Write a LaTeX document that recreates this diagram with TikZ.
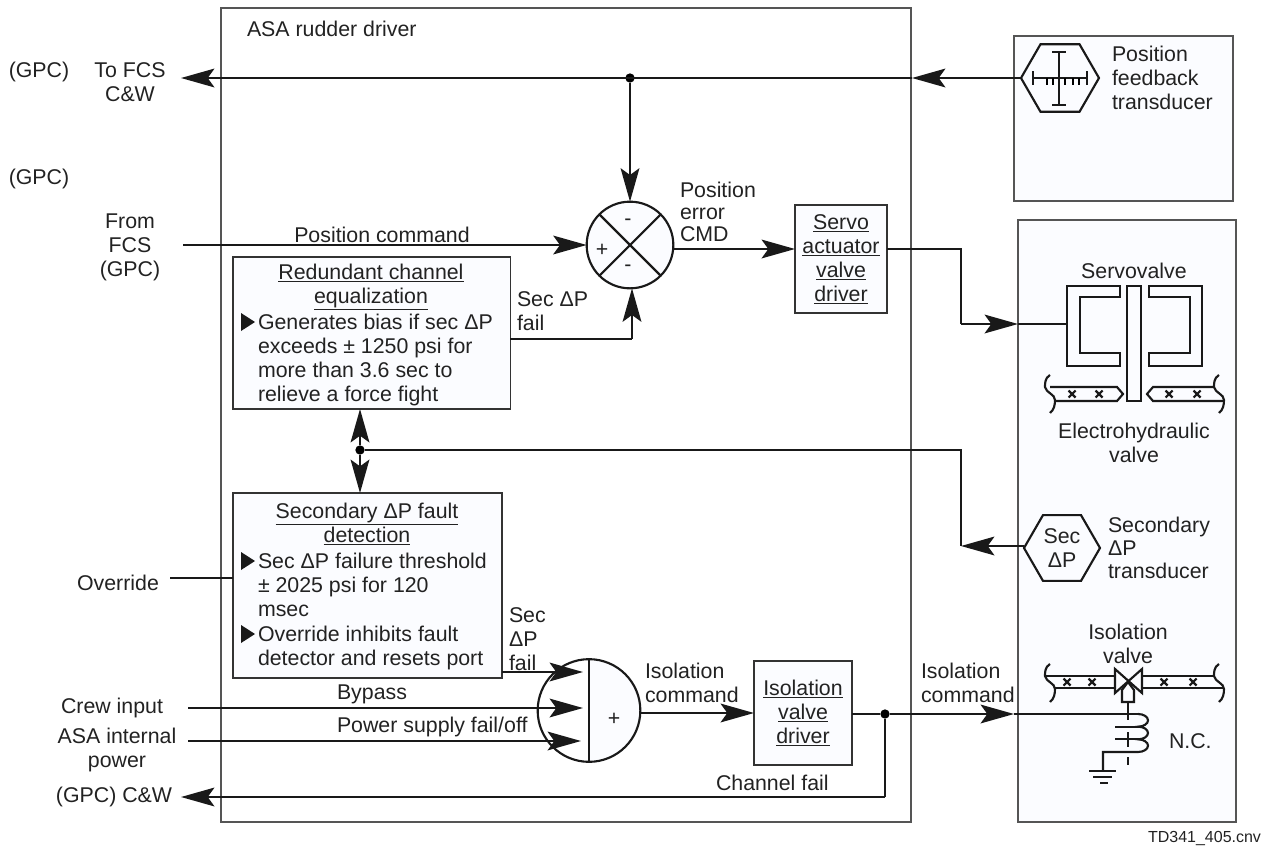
\documentclass[tikz,border=0pt]{standalone}
\usepackage{fontspec}
\setmainfont{Liberation Sans}
\usetikzlibrary{arrows.meta,shapes.geometric}
\definecolor{panelblue}{HTML}{FBFCFF}
\definecolor{edgegray}{HTML}{555555}
\definecolor{inkgray}{HTML}{222222}
\tikzset{
	lbl/.style={inner sep=0pt,outer sep=0pt,text=inkgray,align=center,font=\fontsize{16}{18}\selectfont},
	lblleft/.style={lbl,align=left,anchor=west},
	sig/.style={line width=2.1pt,draw=black!90},
	sigarrow/.style={sig,-{Stealth[length=25pt,width=14pt,inset=5pt]}},
	shapeline/.style={line width=1.6pt,draw=black!90},
	panel/.style={draw=black!80,line width=1pt,fill=panelblue,inner sep=0pt,outer sep=0pt},
	hexa/.style={regular polygon,regular polygon sides=6,minimum size=57pt,shapeline,fill=panelblue,inner sep=0pt,outer sep=0pt},
	joint/.style={circle,fill=black,inner sep=0pt,outer sep=0pt,minimum size=7pt},
	pipebrace/.pic={
		\draw[shapeline] (5,-12) .. controls (0,-9) and (0,-4) .. (0,0)
			.. controls (1,6) and (10,7) .. (10,13) .. controls (10,18) and (9,23) .. (5,26);
	}
}
\begin{document}
\begin{tikzpicture}[x=0.75pt,y=-0.75pt]
	\useasboundingbox (0,0) rectangle (1265,847);
	
	% outer boxes
	\node[panel,fill=white,draw=edgegray,anchor=north west,minimum width=517.5pt,minimum height=610.5pt] (driverBox) at (221,8) {};
	\node[panel,draw=edgegray,anchor=north west,minimum width=164.25pt,minimum height=123.75pt] (feedBox) at (1014,36) {};
	\node[panel,draw=edgegray,anchor=north west,minimum width=163.5pt,minimum height=451.5pt] (valveBox) at (1018,220) {};
	\node[lblleft] (driverText) at (247,29) {ASA rudder driver};
	
	% left side labels
	\node[lbl] (gpcOne) at (39,72) {(GPC)};
	\node[lbl] (gpcTwo) at (39,179) {(GPC)};
	\node[lbl] (toFcs) at (130,82) {To FCS\\C\&W};
	\node[lbl] (fromFcs) at (130,247) {From\\FCS\\(GPC)};
	\node[lbl] (overrideText) at (118,583) {Override};
	\node[lbl] (crewText) at (112,708) {Crew input};
	\node[lbl] (asaText) at (117,750) {ASA internal\\power};
	\node[lbl] (gpcCw) at (114,797) {(GPC) C\&W};
	\node[lbl,anchor=east,font=\fontsize{12}{14}\selectfont] (fileText) at (1261,838) {TD341\_405.cnv};
	
	% feedback transducer
	\node[hexa,minimum size=58.5pt] (feedHex) at (1060,78) {};
	\draw[shapeline] (1059,52) -- (1059,105);
	\draw[shapeline] (1052,52) -- (1066,52);
	\draw[shapeline] (1052,105) -- (1066,105);
	\draw[shapeline] (1033,78) -- (1087,78);
	\draw[shapeline] (1033,71) -- (1033,85);
	\draw[shapeline] (1087,71) -- (1087,85);
	\foreach \x in {1047,1053,1065,1073,1079}
	\draw[line width=1pt] (\x,78) -- (\x,85);
	\node[lblleft] (feedText) at (1112,78) {Position\\feedback\\transducer};
	
	% summing junction
	\node[circle,shapeline,fill=panelblue,minimum size=65pt,inner sep=0pt,outer sep=0pt] (sumNode) at (630,245) {};
	\draw[shapeline] (sumNode.north west) -- (sumNode.south east);
	\draw[shapeline] (sumNode.south west) -- (sumNode.north east);
	\node[lbl] (sumTop) at (628,222) {-};
	\node[lbl] (sumLeft) at (602,250) {+};
	\node[lbl] (sumBottom) at (628,268) {-};
	
	% top line
	\node[joint] (topDot) at (630,78) {};
	\coordinate (topEdge) at (912,78);
	\coordinate (topEnd) at (181,78);
	\draw[sigarrow] (feedHex.west) -- (topEdge);
	\draw[sigarrow] (topEdge) -- (topEnd);
	\draw[sigarrow] (topDot) -- (sumNode.north);
	
	% position command
	\coordinate (cmdStart) at (183,245);
	\draw[sigarrow] (cmdStart) -- (sumNode.west);
	\node[lbl] (cmdText) at (382,235) {Position command};
	\node[lblleft] (errText) at (680,212) {Position\\[-1.5pt]error\\[-1.5pt]CMD};
	\node[panel,anchor=north west,minimum width=69pt,minimum height=81pt,lbl,draw=black!80] (servoBox) at (795,205) {\underline{Servo}\\\underline{actuator}\\\underline{valve}\\\underline{driver}};
	\coordinate (errEnd) at (795,249);
	\draw[sigarrow] (sumNode.east |- errEnd) -- (errEnd);
	
	% redundant channel box
	\node[panel,anchor=north west,minimum width=208pt,minimum height=114pt] (redBox) at (233,257) {};
	\node[lbl] (redTitle) at (371,287) {\underline{Redundant channel}\\\underline{equalization}};
	\node[lblleft,anchor=north west] (redBody) at (258,314) {Generates bias if sec ΔP\\exceeds ± 1250 psi for\\more than 3.6 sec to\\relieve a force fight};
	\node[lblleft] (redFail) at (517,311) {Sec ΔP\\fail};
	\coordinate (redOut) at (632,339);
	\draw[sig] (redBox.east |- redOut) -- (redOut);
	\draw[sigarrow] (redOut) -- (sumNode.south -| redOut);
	
	% servo valve
	\node[lbl] (servoText) at (1134,271) {Servovalve};
	\coordinate (servoBend) at (961,249);
	\coordinate (servoTurn) at (961,324);
	\coordinate (servoEdge) at (1018,324);
	\coordinate (servoIn) at (1067,324);
	\draw[sig] (servoBox.east |- servoBend) -- (servoBend) -- (servoTurn);
	\draw[sigarrow] (servoTurn) -- (servoEdge);
	\draw[sig] (servoEdge) -- (servoIn);
	\draw[shapeline] (1120,286) -- (1067,286) -- (1067,366) -- (1120,366) -- (1120,353) -- (1080,353) -- (1080,297) -- (1120,297) -- cycle;
	\draw[shapeline] (1149,286) -- (1202,286) -- (1202,366) -- (1149,366) -- (1149,353) -- (1190,353) -- (1190,297) -- (1149,297) -- cycle;
	\draw[shapeline] (1127,286) rectangle (1141,401);
	\draw[shapeline] (1050,387) -- (1117,387) -- (1123,394) -- (1117,401) -- (1055,401);
	\draw[shapeline] (1214,387) -- (1153,387) -- (1147,394) -- (1153,401) -- (1223,401);
	\pic at (1045,387) {pipebrace};
	\pic at (1214,387) {pipebrace};
	\foreach \x/\y in {1072/394,1099/394,1169/394,1197/394,1067/682,1092/682,1164/682,1193/682}{
		\draw[shapeline] (\x-3.5,\y-3.5) -- (\x+3.5,\y+3.5);
		\draw[shapeline] (\x-3.5,\y+3.5) -- (\x+3.5,\y-3.5);
	}
	\node[lbl] (electroText) at (1134,443) {Electrohydraulic\\valve};
	
	% secondary transducer line
	\node[joint] (secDot) at (360,450) {};
	\node[hexa] (secHex) at (1062,548) {};
	\node[lbl] (secHexText) at (secHex.center) {Sec\\ΔP};
	\coordinate (secOut) at (1024,546);
	\coordinate (secTurn) at (961,450);
	\coordinate (secBend) at (961,546);
	\draw[sig] (secDot) -- (secTurn) -- (secBend);
	\draw[sigarrow] (secOut) -- (secBend);
	\node[lblleft] (secText) at (1108,548) {Secondary\\[-1pt]ΔP\\[-1pt]transducer};
	
	% secondary fault box
	\node[panel,anchor=north west,minimum width=201.75pt,minimum height=138.75pt] (secBox) at (233,493) {};
	\node[lbl] (secTitle) at (367,524) {\underline{Secondary ΔP fault}\\\underline{detection}};
	\node[lblleft,anchor=north west] (secBodyA) at (258,553) {Sec ΔP failure threshold\\± 2025 psi for 120\\msec};
	\node[lblleft,anchor=north west] (secBodyB) at (258,626) {Override inhibits fault\\detector and resets port};
	\foreach \y in {322,561,634}
	\fill[black!90] (241,\y-9) -- (255,\y) -- (241,\y+9) -- cycle;
	\draw[sigarrow] (secDot) -- (redBox.south -| secDot);
	\draw[sigarrow] (secDot) -- (secBox.north -| secDot);
	\coordinate (overrideStart) at (170,578);
	\draw[sig] (overrideStart) -- (secBox.west |- overrideStart);
	\node[lblleft] (secFail) at (509,639) {Sec\\ΔP\\fail};
	
	% isolation gate
	\fill[panelblue] (589,659) arc[start angle=-90,end angle=90,radius=51.5];
	\node[circle,shapeline,minimum size=77pt,inner sep=0pt,outer sep=0pt] (gateNode) at (589,710.5) {};
	\draw[shapeline] (gateNode.north) -- (gateNode.south);
	\node[lbl] (gatePlus) at (614,719) {+};
	\coordinate (gateFail) at (583,672);
	\coordinate (bypassStart) at (188,708);
	\coordinate (bypassEnd) at (583,708);
	\coordinate (powerStart) at (188,741);
	\coordinate (powerEnd) at (581,741);
	\draw[sigarrow] (secBox.east |- gateFail) -- (gateFail);
	\draw[sigarrow] (bypassStart) -- (bypassEnd);
	\draw[sigarrow] (powerStart) -- (powerEnd);
	\node[lblleft] (bypassText) at (337,694) {Bypass};
	\node[lblleft] (powerText) at (337,727) {Power supply fail/off};
	\node[lblleft] (isoTextA) at (645,683) {Isolation\\command};
	\node[panel,anchor=north west,minimum width=73.5pt,minimum height=78pt,lbl,draw=black!80] (isoBox) at (754,661) {\underline{Isolation}\\\underline{valve}\\\underline{driver}};
	\coordinate (isoIn) at (754,713);
	\draw[sigarrow] (gateNode.east |- isoIn) -- (isoIn);
	
	% isolation valve
	\node[joint] (isoDot) at (885,714) {};
	\coordinate (isoOut) at (852,714);
	\coordinate (isoEdge) at (1014,714);
	\coordinate (coilTop) at (1138,714);
	\coordinate (failTurn) at (885,797);
	\coordinate (failEnd) at (181,797);
	\draw[sig] (isoOut) -- (isoDot);
	\draw[sigarrow] (isoDot) -- (isoEdge);
	\draw[sig] (isoEdge) -- (coilTop);
	\draw[sig] (isoDot) -- (failTurn);
	\draw[sigarrow] (failTurn) -- (failEnd);
	\node[lblleft] (isoTextB) at (921,683) {Isolation\\command};
	\node[lblleft] (failText) at (716,783) {Channel fail};
	\node[lbl] (isoValveText) at (1128,644) {Isolation\\valve};
	\node[lblleft] (ncText) at (1169,741) {N.C.};
	\draw[shapeline] (1045,676) -- (1115,676);
	\draw[shapeline] (1055,688) -- (1115,688);
	\draw[shapeline] (1142,676) -- (1214,676);
	\draw[shapeline] (1142,688) -- (1223,688);
	\pic at (1045,676) {pipebrace};
	\pic at (1214,676) {pipebrace};
	\draw[shapeline,fill=panelblue] (1115,669) -- (1142,693) -- (1142,669) -- (1115,693) -- cycle;
	\draw[shapeline,fill=panelblue] (1122,702) -- (1134,702) -- (1134,690) -- (1128,682) -- (1122,690) -- cycle;
	\draw[shapeline] (1128,703) -- (1128,720);
	\draw[shapeline] (1128,732) -- (1128,747);
	\draw[shapeline] (1128,757) -- (1128,765);
	\draw[shapeline] (1115,727) -- (1138,727);
	\draw[shapeline] (1115,739) -- (1138,739);
	\draw[shapeline] (coilTop) arc[start angle=-90,end angle=90,x radius=10,y radius=6.33]
		arc[start angle=-90,end angle=90,x radius=10,y radius=6.33]
		arc[start angle=-90,end angle=90,x radius=10,y radius=6.33]
		-- (1103,752) -- (1103,771);
	\draw[shapeline] (1089,771) -- (1116,771);
	\draw[shapeline] (1093,777) -- (1112,777);
	\draw[shapeline] (1100,783) -- (1108,783);
\end{tikzpicture}
\end{document}
